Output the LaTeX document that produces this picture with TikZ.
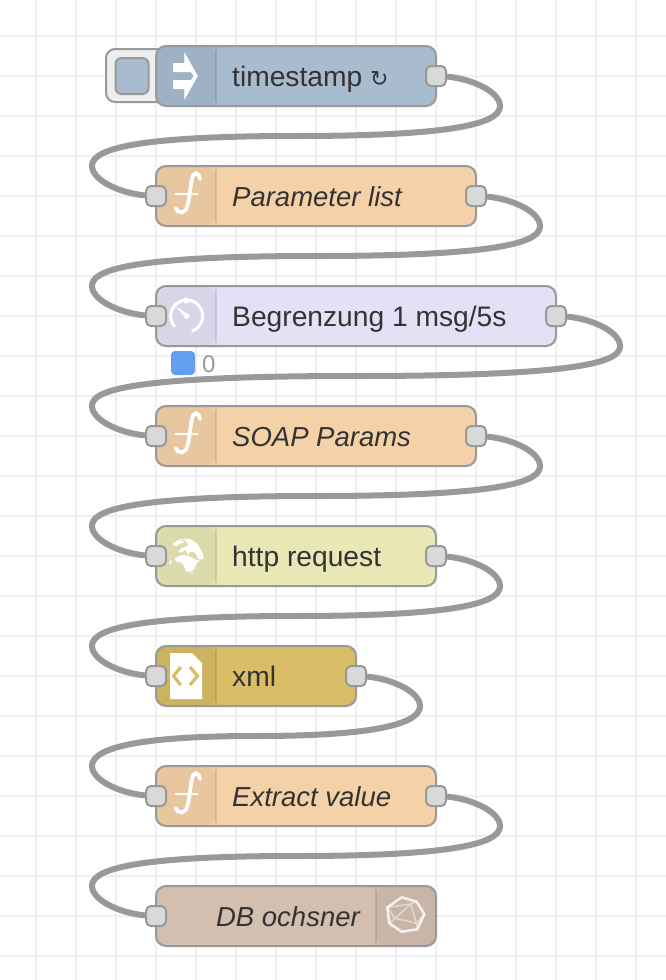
\documentclass[tikz,border=0pt]{standalone}
\usepackage{fontspec}
\setmainfont{Liberation Sans}
\newfontfamily\dejavu{DejaVu Sans}
\usetikzlibrary{calc}
\pgfdeclarelayer{gridlayer}
\pgfdeclarelayer{wirelayer}
\pgfsetlayers{gridlayer,wirelayer,main}
\definecolor{cinject}{HTML}{A8BBCF}
\definecolor{cfunc}{HTML}{F5D1A8}
\definecolor{cdelay}{HTML}{E5E0F5}
\definecolor{chttp}{HTML}{E8E7B5}
\definecolor{cxml}{HTML}{D8BD66}
\definecolor{cdb}{HTML}{D3BFB0}
\definecolor{cborder}{HTML}{999999}
\definecolor{cport}{HTML}{D9D9D9}
\definecolor{cgrid}{HTML}{EEEEEE}
\definecolor{ctext}{HTML}{333333}
\definecolor{cstatus}{HTML}{639FEE}
\tikzset{
  x=1pt,y=-1pt,
  nodebox/.style={draw=cborder,line width=2pt,rounded corners=10pt,minimum height=60pt,inner sep=0pt,outer sep=0pt},
  portbox/.style={draw=cborder,fill=cport,line width=2pt,rounded corners=5pt,minimum width=20pt,minimum height=20pt,inner sep=0pt,outer sep=0pt},
  wire/.style={draw=cborder,line width=6pt},
  gridline/.style={draw=cgrid,line width=2pt},
  lab/.style={anchor=base west,inner sep=0pt,text=ctext,font=\fontsize{28.2}{32}\selectfont},
  ilab/.style={lab,font=\fontsize{27.5}{32}\selectfont\itshape},
  tint/.style={fill=black,fill opacity=.05,rounded corners=9pt},
  divider/.style={draw=black,draw opacity=.1,line width=2pt},
  icon/.style={fill=white,draw=none},
  iconline/.style={draw=white,line width=3pt,fill=none},
}
% name, left x, width, centre y, colour
\newcommand{\flownodebody}[5]{%
  \node[nodebox,fill=#5,minimum width=#3pt] (#1) at ({#2+#3/2},#4) {};
  \fill[tint] (216,#4-29) -- (157,#4-29) -- (157,#4+29) -- (216,#4+29) -- cycle;
  \draw[divider] (216,#4-29) -- (216,#4+29);
  \node[portbox] (#1out) at (#2+#3,#4) {};
}
\newcommand{\flownode}[5]{%
  \flownodebody{#1}{#2}{#3}{#4}{#5}
  \node[portbox] (#1in) at (#2,#4) {};
}
\newcommand{\functionicon}[1]{%
  \begin{scope}[shift={(0,#1)}]
    \draw[white,line width=3.8pt,line cap=round] (200,-17) .. controls (199,-24) and (193.5,-25) .. (192,-17)
      .. controls (190,-8) and (189.5,4) .. (187,11) .. controls (185,18) and (178,18) .. (175.5,12);
    \draw[white,line width=2.8pt] (175,-2) -- (198,-2);
  \end{scope}%
}
\newcommand{\wireto}[2]{%
  \draw[wire] let \p1=(#1), \p2=(#2) in
    (\p1) .. controls (\x1+32pt,\y1) and (\x1+64pt,\y1-15pt) .. (\x1+64pt,\y1-30pt)
    .. controls (\x1+64pt,\y1-45pt) and (\x1+32pt,\y1-60pt) .. ({(\x1+\x2)/2},\y1-60pt)
    .. controls (\x2-32pt,\y1-60pt) and (\x2-64pt,\y1-75pt) .. (\x2-64pt,\y1-90pt)
    .. controls (\x2-64pt,\y1-105pt) and (\x2-32pt,\y2) .. (\p2);
}
\begin{document}
\begin{tikzpicture}
\useasboundingbox (0,0) rectangle (666,980);
\begin{pgfonlayer}{gridlayer}
  \fill[white] (0,0) rectangle (666,980);
  \foreach \k in {0,...,15} \draw[gridline] (36+40*\k,0) -- (36+40*\k,980);
  \foreach \k in {0,...,23} \draw[gridline] (0,36+40*\k) -- (666,36+40*\k);
\end{pgfonlayer}

% inject button
\draw[draw=cborder,fill=cgrid,line width=2pt,rounded corners=9pt] (166,49) -- (106,49) -- (106,102) -- (166,102);
\node[draw=cborder,fill=cinject,line width=2pt,rounded corners=6pt,minimum width=33pt,minimum height=36pt,inner sep=0pt,outer sep=0pt] (btn) at (132,76) {};

\flownodebody{ts}{156}{280}{76}{cinject}
\flownode{pl}{156}{320}{196}{cfunc}
\flownode{lim}{156}{400}{316}{cdelay}
\flownode{soap}{156}{320}{436}{cfunc}
\flownode{http}{156}{280}{556}{chttp}
\flownode{xml}{156}{200}{676}{cxml}
\flownode{ext}{156}{280}{796}{cfunc}

% DB node: icon on the right, input port only
\node[nodebox,fill=cdb,minimum width=280pt] (db) at (296,916) {};
\fill[tint] (376,887) -- (435,887) -- (435,945) -- (376,945) -- cycle;
\draw[divider] (376,887) -- (376,945);
\node[portbox] (dbin) at (156,916) {};

% labels
\node[lab] (tslab) at (232,86) {timestamp {\dejavu\fontsize{22}{24}\selectfont ↻}};
\node[ilab] (pllab) at (232,206) {Parameter list};
\node[lab] (limlab) at (232,326) {Begrenzung 1 msg/5s};
\node[ilab] (soaplab) at (232,446) {SOAP Params};
\node[lab] (httplab) at (232,566) {http request};
\node[lab] (xmllab) at (232,686) {xml};
\node[ilab] (extlab) at (232,806) {Extract value};
\node[ilab,anchor=base east] (dblab) at (360,926) {DB ochsner};

% status
\node[fill=cstatus,rounded corners=4pt,minimum size=24pt,inner sep=0pt,outer sep=0pt] (st) at (183,363) {};
\node[anchor=base west,inner sep=0pt,text=cborder,font=\fontsize{24}{26}\selectfont] (stlab) at (202,372) {0};

% inject icon
\fill[icon] (184.3,52) -- (197.8,76) -- (184.3,100) -- (184.3,89) -- (173,89) -- (173,80) -- (191,80) -- (193.6,76) -- (191,72) -- (173,72) -- (173,63) -- (184.3,63) -- cycle;

\functionicon{196}
\functionicon{436}
\functionicon{796}

% timer icon
\draw[iconline] (186.7,316) ++(72:16) arc[start angle=72,end angle=-222,radius=16];
\fill[icon] (186,300.5) circle[radius=3];
\fill[icon] (186.7,316) circle[radius=3];
\fill[icon] (176,306.5) -- (188.2,314.2) -- (185.2,317.8) -- cycle;

% globe icon
\begin{scope}[shift={(140,520)},x=.3333pt,y=-.3333pt]
  \fill[icon] plot[smooth cycle,tension=.3] coordinates {(97,72)(115,60)(135,56)(122,62)(135,66)(118,72)(108,79)};
  \fill[icon] plot[smooth cycle,tension=.3] coordinates {(132,57)(150,57)(172,72)(188,100)(190,116)(176,118)(165,98)(150,95)(145,105)(135,90)(125,98)(115,95)(125,85)(145,76)(140,66)};
  \fill[icon] plot[smooth cycle,tension=.3] coordinates {(105,115)(125,105)(150,110)(165,118)(180,122)(170,130)(160,150)(140,155)(130,135)(125,128)(110,125)};
  \fill[icon] (88,125) -- (95,120) -- (92,135) -- cycle;
  \fill[icon] (150,157) -- (162,156) -- (156,160) -- cycle;
\end{scope}

% xml icon
\fill[icon] (170,653) -- (192,653) -- (202,663) -- (202,699) -- (170,699) -- cycle;
\draw[draw=cxml,line width=3.2pt] (180.7,667) -- (173.5,676) -- (180.7,685);
\draw[draw=cxml,line width=3.2pt] (190,667) -- (197.5,676) -- (190,685);

% db icon
\begin{scope}[shift={(380,890)},x=.3333pt,y=-.3333pt]
  \draw[draw=white,draw opacity=.8,line width=2.6pt,line join=round] (65,22) -- (110,35) -- (133,72) -- (112,118) -- (65,125) -- (28,100) -- (22,52) -- cycle;
  \draw[draw=white,draw opacity=.45,line width=1.6pt] (22,52) -- (92,42) -- (110,100) -- (45,85) -- cycle (92,42) -- (45,85) (45,85) -- (28,100) (92,42) -- (110,35) (110,100) -- (112,118) (110,100) -- (133,72);
\end{scope}

\begin{pgfonlayer}{wirelayer}
  \wireto{tsout}{plin}
  \wireto{plout}{limin}
  \wireto{limout}{soapin}
  \wireto{soapout}{httpin}
  \wireto{httpout}{xmlin}
  \wireto{xmlout}{extin}
  \wireto{extout}{dbin}
\end{pgfonlayer}
\end{tikzpicture}
\end{document}
